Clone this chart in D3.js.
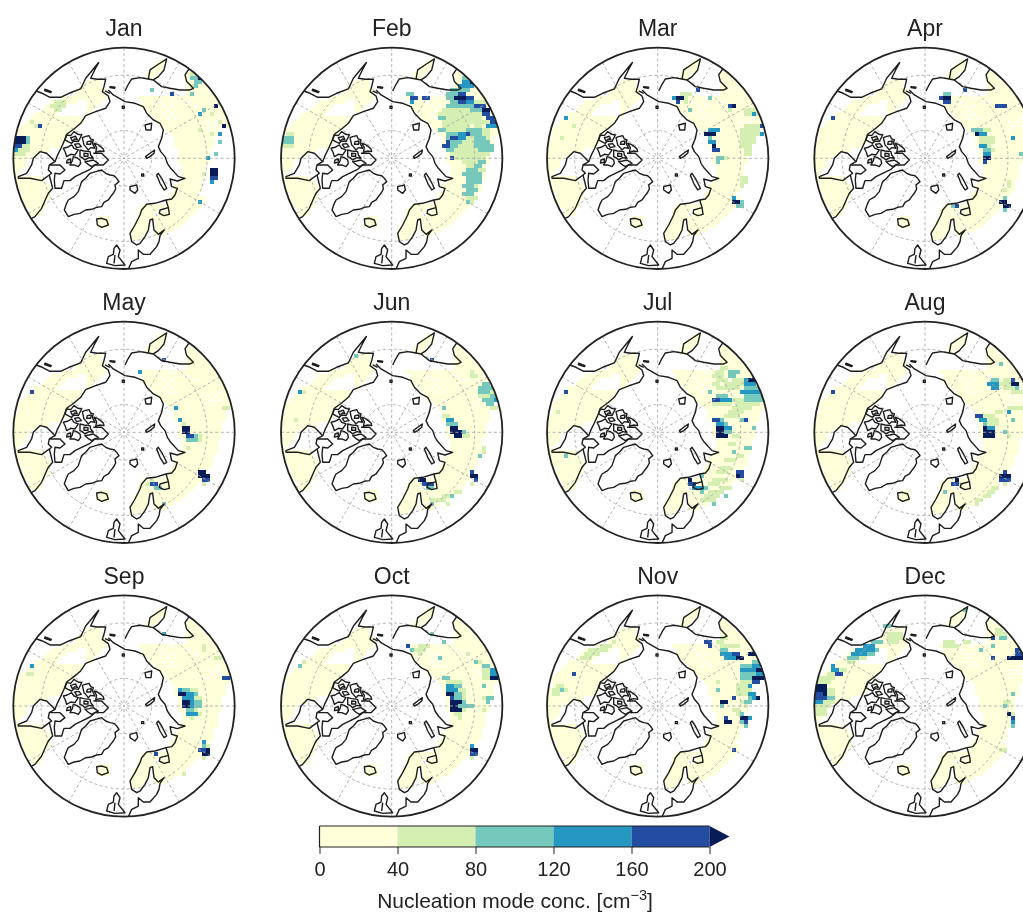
<!DOCTYPE html>
<html>
<head>
<meta charset="utf-8">
<script src="https://cdn.jsdelivr.net/npm/d3@7"></script>
<style>
  html, body { margin: 0; padding: 0; background: #fff; }
  svg { display: block; filter: blur(0.6px); }
  text { font-family: "Liberation Sans", Arial, sans-serif; fill: #222; }
</style>
</head>
<body>
<script>
// Month labels and colour bar
var months = ["Jan", "Feb", "Mar", "Apr", "May", "Jun", "Jul", "Aug", "Sep", "Oct", "Nov", "Dec"];
var barTicks = [0, 40, 80, 120, 160, 200];
var barColors = ["#ffffd9", "#d5efb3", "#75c8bc", "#2498c1", "#234da0", "#081d58"];

// Map units: 12 units = one grid cell, the pole is 0,0, the rim is at 332
var rimUnits = 332;
var cellUnits = 12;

// Land cells, all close to the lowest bin: [row, firstCol, lastCol]
var eurasiaRows = [[-20,16,18],[-19,16,19],[-18,16,20],[-17,16,21],[-16,16,22],[-15,4,23],[-14,5,24],[-13,5,25],[-12,6,25],
  [-11,7,26],[-10,8,26],[-9,9,26],[-8,10,26],[-7,11,26],[-6,12,26],[-5,13,25],[-4,13,25],[-3,13,25],[-2,14,24],[-1,14,24],
  [0,14,24],[1,14,24],[2,15,23],[3,15,23],[4,15,23],[5,15,23],[6,14,22],[7,13,22],[8,13,22],[9,12,21],[10,12,20],[11,11,20],
  [12,10,19],[13,10,18],[14,9,17],[15,8,16],[16,8,15],[17,8,14],[18,8,12],[19,8,10]];
var europeRows = [[12,5,9],[13,4,8],[14,4,7],[15,4,7],[16,3,6],[17,3,6],[18,2,6],[19,2,5],[20,2,4],
  [15,-6,-4],[16,-6,-4],[17,-6,-4],[-24,9,10],[-23,8,10],[-22,7,9],[-21,6,8],[-20,6,7],[-21,16,17]];
var americaRows = [[-19,-9,-6],[-18,-10,-6],[-17,-11,-5],[-16,-12,-5],[-15,-15,-5],[-14,-18,-12],[-14,-9,-6],[-13,-19,-15],[-13,-9,-7],
  [-12,-20,-16],[-12,-9,-8],[-11,-22,-17],[-11,-9,-9],[-10,-23,-11],[-9,-24,-11],[-8,-25,-12],[-7,-26,-13],[-6,-26,-14],[-5,-26,-15],
  [-4,-27,-15],[-3,-27,-16],[-2,-27,-19],[-1,-27,-22],[0,-27,-24],[1,-27,-25],[2,-27,-25],[3,-27,-26],[4,-27,-27],
  [5,-27,-21],[6,-27,-20],[7,-26,-19],[8,-26,-19],[9,-25,-19],[10,-25,-19],[11,-25,-20],[12,-24,-20],[13,-23,-21],[14,-23,-21]];
var landValue = 20;
// how many columns the central Siberian edge falls short in each month
var eastTrim = [3, 0, 2, 0, 0, 1, 0, 0, 0, 0, 2, 2];
var trimRows = [-7, 9];
// cells with no data inside the Siberian land area: [row, col]
var gapCells = [[-14,9],[-13,10],[-13,12],[-12,11],[-11,10],[-11,12],[-10,11],[-10,13],[-15,12],[-9,21],[-8,22],[-9,23],[-8,24],[-10,24],[-7,21],[-14,16],[-13,18]];

// Cells above the lowest bin, one list per month: [row, firstCol, lastCol, value]
var janCells = [[-5,-27,-25,220],[-4,-27,-25,220],[-3,-27,-26,180],[-2,-27,-27,140],[-5,-24,-24,100],[-4,-24,-24,100],[-3,-25,-24,60],[-2,-26,-24,60],[-1,-27,-25,60],
  [-8,-21,-21,180],[-8,-22,-22,60],[-9,-23,-23,60],[-14,-17,-15,60],[-13,-18,-15,60],[-12,-17,-16,60],
  [-16,12,12,180],[-17,7,7,100],[-16,17,17,100],[-21,17,18,60],[-20,17,18,100],[-20,19,19,220],[-19,18,19,100],[-18,18,18,100],[-18,17,17,60],
  [-12,20,20,100],[-11,19,19,140],[-13,23,23,220],[-11,22,22,60],[-8,25,25,220],[-9,24,24,60],[-6,24,24,140],[-4,24,24,100],[-1,23,23,100],[0,21,21,140],
  [-7,19,19,60],[-6,22,22,60],[3,22,23,220],[4,22,23,220],[5,22,23,180],[6,22,22,140],[4,20,20,60],[11,19,19,140]];
var febCells = [[-5,-27,-25,100],[-4,-27,-25,100],[-3,-27,-25,60],[-6,-26,-25,60],
  [-16,4,5,100],[-15,5,6,180],[-14,5,5,140],[-15,8,9,180],
  [-20,18,20,100],[-19,18,19,140],[-19,20,21,220],[-18,17,20,140],[-17,15,16,100],[-17,17,19,100],
  [-16,14,16,100],[-16,17,18,180],[-15,14,15,100],[-15,16,18,220],[-15,19,20,180],[-14,15,16,100],[-14,17,18,180],[-14,19,20,140],[-14,21,23,60],
  [-13,14,17,100],[-13,18,20,100],[-13,21,23,180],[-12,13,15,60],[-12,16,19,60],[-12,20,22,100],[-12,23,24,220],
  [-11,12,14,60],[-11,15,20,60],[-11,21,22,60],[-11,23,24,180],[-10,12,13,100],[-10,14,19,60],[-10,20,22,60],[-10,24,25,180],
  [-9,13,15,60],[-9,16,20,60],[-9,21,24,60],[-9,25,26,180],[-8,13,14,60],[-8,15,19,60],[-8,21,22,60],[-8,24,26,140],
  [-7,12,13,100],[-7,14,18,60],[-7,19,22,100],[-7,23,24,60],[-6,14,16,100],[-6,17,18,140],[-6,19,19,180],[-6,20,22,100],[-6,23,24,60],
  [-5,14,14,100],[-5,15,16,180],[-5,17,18,140],[-5,19,20,60],[-5,21,23,100],[-5,24,24,60],[-4,14,14,180],[-4,15,17,100],[-4,18,20,60],[-4,21,24,100],
  [-3,13,14,180],[-3,15,16,100],[-3,17,20,60],[-3,21,25,100],[-2,14,15,100],[-2,16,21,60],[-2,22,25,100],[-1,15,20,60],[-1,21,24,60],
  [0,15,15,180],[0,16,23,60],[1,18,21,60],[1,22,23,100],[2,19,20,60],[2,21,22,100],[3,19,21,100],[3,22,23,60],[4,18,22,100],[5,19,22,100],
  [6,19,22,100],[7,18,20,100],[7,21,21,60],[8,19,21,100],[9,18,20,100],[10,19,20,60],[10,21,21,60],[11,19,19,100],[11,20,20,60]];
var marCells = [[-10,-23,-23,140],[-8,-21,-21,60],[-5,-24,-24,60],
  [-15,5,6,220],[-14,5,5,180],[-15,4,4,140],[-15,7,7,60],[-16,6,8,60],[-14,7,7,60],[-17,10,10,180],[-15,13,13,100],[-12,8,8,100],
  [-13,19,19,220],[-13,18,18,180],[-12,18,18,60],[-7,13,15,140],[-6,12,14,220],[-5,13,13,100],[-4,13,14,140],[-3,14,14,220],[-2,14,15,180],[0,15,16,100],[1,15,15,100],[0,17,17,60],
  [11,19,20,220],[10,19,19,140],[12,20,21,100],[11,21,21,100],
  [-12,22,25,60],[-11,22,25,60],[-8,22,25,60],[-7,21,25,60],[-6,21,25,60],[-5,21,24,60],[-4,21,24,60],[-3,21,23,60],[-2,22,23,60],[-1,22,23,60],
  [-11,24,24,140],[-8,26,26,180],[-6,26,26,140],[5,21,22,60],[6,21,22,60],[7,21,21,60]];
var aprCells = [[-10,-23,-23,180],
  [-15,5,6,220],[-15,4,4,180],[-16,5,6,100],[-14,5,6,180],[-17,10,10,180],[-13,18,20,180],
  [-7,12,14,100],[-6,13,13,220],[-6,14,15,140],[-7,15,16,60],[-5,14,17,60],[-4,14,17,60],[-3,14,15,140],[-3,16,16,60],[-2,15,16,100],[-2,17,17,60],[-1,15,16,140],[0,15,16,220],[1,15,15,180],
  [-5,22,22,140],[-1,24,24,100],[10,20,20,100],[11,19,20,220],[12,20,21,220],[13,20,20,100],[12,8,8,180],[12,7,7,100],[6,21,21,60],[7,21,21,60],[8,20,20,60]];
var mayCells = [[-10,-23,-23,180],[-15,4,4,140],[-18,10,10,180],
  [-6,13,13,140],[-3,14,14,140],[-2,15,15,60],[0,15,16,220],[-1,15,16,220],[1,16,17,180],[1,18,18,100],[2,16,18,100],[2,19,19,60],[1,19,19,60],[4,16,16,60],
  [10,19,20,220],[11,19,21,220],[12,20,21,180],[13,20,20,60],[13,7,8,180],[12,7,7,60],[14,8,9,100],[13,6,6,60],[-6,25,26,60],[18,10,10,100]];
var junCells = [[-19,-9,-9,100],[-10,-23,-23,140],[-10,-22,-22,60],[-3,-24,-24,60],[-18,10,10,180],[-15,20,20,60],[-14,20,21,60],
  [-12,23,24,100],[-11,22,25,100],[-10,22,24,100],[-10,25,26,60],[-9,22,24,60],[-9,25,26,100],[-8,23,25,100],[-8,26,26,140],[-7,24,25,100],[-6,25,26,60],
  [-6,13,13,100],[-4,13,14,60],[-3,14,15,140],[-2,14,16,100],[-1,15,16,220],[0,15,17,220],[1,16,17,220],[0,18,18,100],[1,18,19,60],
  [4,23,23,60],[5,23,23,60],[6,22,22,100],[10,20,20,180],[11,20,21,220],[12,21,21,180],[13,20,20,60],
  [12,7,8,220],[13,8,10,180],[14,9,10,100],[18,10,10,100],[16,15,15,100],[16,13,14,60],[17,12,13,60],[15,16,17,60],[17,10,11,60],[18,14,14,60]];
var julCells = [[-10,-23,-23,180],[-5,-25,-25,60],[6,-23,-23,100],
  [-15,18,20,100],[-14,18,19,100],[-16,16,17,60],[-15,15,16,60],[-14,14,16,60],[-13,15,17,60],[-13,19,21,60],[-12,14,15,60],[-12,17,21,60],[-11,15,20,60],
  [-13,23,24,220],[-13,22,22,140],[-12,22,24,140],[-11,22,25,100],[-10,21,25,140],[-9,22,26,100],[-8,22,26,100],[-8,19,21,60],[-7,20,25,60],[-6,19,23,60],
  [-10,13,13,100],[-9,15,17,100],[-8,14,15,180],[-8,16,18,140],[-7,14,18,60],[-5,18,21,60],[-4,17,20,60],
  [-3,14,15,180],[-3,16,16,100],[-2,15,16,140],[-2,17,17,100],[-1,15,16,220],[-1,17,18,140],[0,15,16,220],[0,17,18,100],[1,15,17,220],
  [-3,21,21,100],[-3,22,22,180],[-1,24,24,100],[4,22,23,100],[5,19,19,100],[1,19,20,60],[3,18,19,60],[6,20,21,60],[7,17,19,60],
  [10,20,21,180],[11,20,20,220],[11,21,21,180],[12,21,21,60],[9,16,18,60],[10,15,17,60],[12,14,17,60],[13,13,15,60],[14,16,18,60],[15,13,16,60],[16,12,15,60],[17,11,14,60],
  [12,8,8,220],[13,8,9,180],[14,9,11,140],[15,11,11,100],[11,11,11,100],[14,12,12,100],[16,17,17,100],[18,14,14,100]];
var augCells = [[-10,-23,-23,180],[-17,19,19,100],[-13,17,18,100],[-12,16,18,140],[-11,17,18,140],
  [-13,22,22,180],[-12,22,23,220],[-11,23,23,100],[-13,20,21,60],[-12,19,21,60],[-11,20,22,60],[-10,22,24,60],[-10,25,26,100],
  [-5,21,21,140],[-6,23,23,100],[-3,22,22,100],[0,20,20,100],[-6,21,24,60],[-5,18,19,60],[1,21,21,60],
  [-4,13,14,180],[-3,14,15,140],[-2,15,15,100],[-1,16,17,140],[-1,15,15,220],[0,15,17,220],[1,15,17,220],[-2,16,18,60],[-3,16,18,60],[-4,15,17,60],
  [10,20,20,180],[11,19,21,220],[12,19,21,180],[13,20,20,60],[12,8,8,220],[13,7,8,180],[13,9,9,60],[15,5,5,100],
  [14,17,18,60],[15,16,17,60],[16,15,16,60],[17,13,14,60],[18,13,13,60]];
var sepCells = [[-10,-23,-23,140],[-8,-24,-23,60],[-18,10,10,140],[-14,20,20,60],[-15,20,20,60],[-12,23,24,60],[-7,25,26,180],
  [-3,14,15,220],[-2,15,15,140],[-4,14,14,140],[-4,15,16,100],[-4,17,18,60],[-3,16,17,140],[-2,16,17,140],[-3,18,18,100],[-2,18,19,60],
  [-1,15,16,220],[-1,17,17,140],[-1,18,19,100],[0,15,16,220],[0,17,17,140],[0,18,19,100],[1,16,17,100],[1,18,18,60],[2,16,18,140],[2,19,19,60],[3,17,17,60],
  [9,20,20,140],[10,20,20,100],[10,21,21,60],[11,19,20,180],[11,21,21,220],[12,20,21,220],[13,20,20,60],[12,8,8,180],[17,15,15,60]];
var octCells = [[-10,-23,-23,100],[-11,-22,-22,60],[-15,4,4,180],[-14,5,5,100],[-18,10,10,100],[-16,13,13,100],[-12,12,12,100],[-13,19,19,60],
  [-15,7,9,60],[-14,6,8,60],[-13,7,7,60],[-11,21,21,100],[-11,22,22,60],[-10,23,24,100],[-9,25,26,140],[-8,25,26,140],[-7,25,26,220],[-9,23,24,60],[-8,23,24,60],[-7,23,24,60],
  [-7,13,14,100],[-6,14,17,60],[-5,14,15,140],[-5,16,17,100],[-4,14,16,140],[-4,17,18,60],[-3,14,15,220],[-3,16,17,100],[-3,18,18,60],[-2,15,15,180],[-2,16,17,100],[-2,18,18,60],
  [-1,15,17,220],[-1,18,18,100],[0,15,16,220],[0,17,18,100],[1,15,17,220],[1,18,18,60],[2,16,17,60],[3,17,17,60],[0,19,20,100],[1,23,23,60],[-5,23,23,100],[-2,24,25,100],[-2,23,23,60],[-1,24,24,100],
  [10,20,20,140],[11,20,21,220],[12,20,21,180],[13,20,20,60]];
var novCells = [[-8,-21,-21,180],[-4,-24,-24,100],[-5,-25,-24,60],[-4,-26,-25,60],[-3,-26,-25,60],[-4,-23,-23,60],
  [-16,-11,-11,60],[-15,-14,-12,60],[-14,-17,-13,60],[-13,-18,-15,60],[-12,-19,-17,60],
  [-16,12,13,180],[-15,13,13,180],[-16,15,16,60],[-17,16,17,60],[-15,18,20,60],[-15,16,17,60],
  [-14,16,17,100],[-13,16,18,140],[-13,19,20,180],[-12,17,19,140],[-12,20,21,220],[-13,23,24,220],[-11,24,25,100],
  [-10,21,23,100],[-10,24,25,140],[-9,21,24,140],[-9,25,26,220],[-8,21,24,100],[-8,25,26,140],[-7,21,23,100],[-7,24,26,220],[-6,21,23,60],[-6,24,25,180],[-5,20,22,60],[-5,23,23,140],
  [-3,23,24,140],[-2,24,24,140],[-2,23,23,100],[-3,22,22,60],[-4,22,23,60],[-2,25,25,220],[-1,22,23,100],[0,22,22,60],[-1,21,21,60],
  [-2,19,19,180],[-1,16,17,220],[0,16,16,100],[2,21,21,100],[3,21,22,220],[4,22,22,180],[3,23,23,140],[4,21,21,100],[5,22,22,100],[3,17,17,180],[4,17,18,220],[-4,15,15,100],[-6,15,15,60],[11,19,19,180],
  [1,19,20,60],[2,20,20,60],[-4,20,21,60],[-3,20,21,60]];
var decCells = [[-5,-27,-25,220],[-4,-27,-25,220],[-3,-27,-26,180],[-3,-25,-25,220],[-2,-27,-25,180],[-1,-27,-26,140],
  [-7,-27,-24,60],[-6,-27,-24,60],[-4,-24,-23,60],[-3,-24,-23,60],[-2,-24,-23,100],[-1,-25,-23,60],[0,-27,-24,60],[1,-27,-25,60],[2,-27,-25,60],
  [-10,-23,-23,140],[-9,-23,-22,140],[-9,-21,-20,60],[-8,-22,-21,180],[-8,-24,-23,60],[-7,-25,-23,60],[-6,-26,-24,60],
  [-16,-13,-12,100],[-15,-15,-13,140],[-14,-17,-13,140],[-14,-12,-12,100],[-13,-18,-15,140],[-13,-14,-13,100],[-12,-19,-17,100],[-12,-16,-15,60],[-11,-19,-18,60],[-16,-11,-11,100],
  [-18,-9,-6,60],[-17,-9,-6,60],[-16,-9,-7,60],[-20,-10,-9,100],[-24,10,10,100],
  [-16,5,7,60],[-15,5,8,60],[-16,10,11,60],[-14,14,14,100],[-15,17,17,100],[-17,17,17,180],[-17,19,20,100],[-18,18,20,60],[-19,18,19,60],[-12,17,17,180],
  [-12,21,23,220],[-13,23,24,180],[-12,24,24,220],[-14,23,25,180],[-3,22,22,100],[2,21,21,220],[3,22,22,180],[4,22,22,140],[5,22,22,100],[2,22,22,60],[0,20,20,100],[-1,20,21,60],[11,19,20,60]];
var monthCells = [janCells, febCells, marCells, aprCells, mayCells, junCells, julCells, augCells, sepCells, octCells, novCells, decCells];

// Coast lines in map units
var coastOpen = [
  // Alaska and the Canadian north coast
  [[-278,-207],[-245,-195],[-222,-183],[-190,-183],[-165,-195],[-130,-208],[-122,-225],[-115,-240],[-100,-258],[-78,-285],[-76,-287],[-88,-265],[-100,-240],[-80,-237],[-55,-237],[-60,-215],[-65,-200],[-47,-187],[-42,-170],[-55,-150],[-85,-140],[-115,-128],[-130,-105],[-150,-88],[-172,-72],[-180,-50],[-190,-28],[-200,-8],[-207,10]],
  // Hudson Bay
  [[-224,50],[-247,67],[-282,60],[-317,60],[-317,55],[-292,45],[-277,20],[-272,0],[-252,-20],[-232,-15],[-217,0],[-207,10],[-224,20],[-227,35],[-217,45],[-224,50]],
  // Labrador
  [[-224,50],[-214,90],[-227,105],[-234,120],[-247,150],[-267,175],[-277,180]],
  // Baffin side, coiling round to the archipelago
  [[-224,20],[-192,20],[-177,35],[-192,47],[-207,45],[-209,65],[-207,90],[-187,90],[-180,67],[-162,67],[-147,55],[-127,45],[-102,33],[-87,20],[-62,20],[-47,5],[-67,-15],[-92,-15]],
  // Eurasia, Bering Strait round to the Sea of Okhotsk
  [[-57,-202],[-42,-195]],
  [[3,-202],[13,-222],[23,-238],[48,-242],[73,-238],[88,-235],[113,-215],[138,-210],[168,-205],[198,-205],[208,-210],[188,-230],[183,-250],[193,-265],[205,-272]],
  // Kamchatka
  [[73,-238],[78,-265],[103,-282],[128,-298],[120,-265],[103,-245],[88,-235]],
  // Arctic coast of Siberia to Scandinavia and the Baltic
  [[-47,-205],[-32,-190],[3,-170],[33,-165],[58,-155],[68,-135],[88,-115],[108,-105],[118,-85],[113,-60],[103,-35],[110,-20],[123,-5],[130,15],[140,30],[163,55],[183,60],[160,68],[138,62],[143,85],[160,90],[153,110],[143,122],[126,125],[93,135],[68,138],[53,155],[48,170],[33,200],[18,225],[23,250],[38,260],[48,255],[63,235],[73,215],[78,185],[86,182],[88,200],[90,215],[103,228],[120,215],[108,232],[105,250],[98,265],[78,288],[58,288],[43,275],[43,300],[23,310],[13,332]],
  // White Sea
  [[126,125],[133,148],[136,168],[120,172],[106,165],[108,155],[133,148]],
  // Ireland and Britain inner split
  [[-27,290],[-30,315]]
];
var coastClosed = [
  // Greenland
  [[-172,135],[-167,125],[-150,115],[-137,100],[-132,85],[-127,70],[-115,60],[-102,45],[-85,40],[-67,35],[-55,45],[-42,50],[-30,52],[-22,60],[-15,70],[-27,80],[-25,92],[-32,105],[-40,115],[-47,125],[-60,132],[-67,145],[-82,147],[-97,153],[-115,155],[-132,165],[-150,168],[-167,175],[-179,155]],
  // Iceland
  [[-82,182],[-67,180],[-52,185],[-47,200],[-67,207],[-80,200]],
  // Svalbard and the small islands
  [[18,85],[38,80],[41,95],[33,105],[18,95]],
  [[53,47],[59,47],[59,53],[53,53]],
  [[-5,-156],[1,-156],[1,-150],[-5,-150]],
  // Novaya Zemlya
  [[103,45],[113,60],[128,90],[120,95],[108,75],[98,50]],
  [[63,-100],[83,-105],[81,-85],[66,-85]],
  [[65,-5],[78,-15],[92,-25],[90,-15],[78,-5],[68,0]],
  // Britain
  [[-22,260],[-12,275],[-17,295],[3,320],[-27,322],[-52,315],[-47,295],[-32,288],[-30,270]],
  [[-237,-207],[-218,-200],[-220,-197],[-238,-203]],
  [[-42,-215],[-27,-213],[-28,-210],[-42,-212]],
  // Arctic archipelago
  [[-172,-70],[-160,-68],[-150,-80],[-138,-72],[-127,-70],[-132,-60],[-137,-50],[-150,-52],[-157,-45],[-168,-50],[-177,-55]],
  [[-125,-62],[-117,-65],[-105,-68],[-100,-58],[-92,-55],[-95,-45],[-87,-30],[-100,-32],[-107,-25],[-115,-35],[-120,-40]],
  [[-182,-30],[-170,-33],[-157,-40],[-150,-30],[-137,-25],[-142,-18],[-147,-10],[-160,-12],[-172,-5],[-176,-18]],
  [[-132,-25],[-120,-22],[-102,-20],[-100,-10],[-92,0],[-105,-2],[-117,5],[-125,-2],[-132,-5]],
  [[-152,-5],[-142,-2],[-132,5],[-130,15],[-137,25],[-150,20],[-162,20],[-155,8]],
  [[-117,10],[-105,8],[-92,5],[-85,10],[-77,15],[-88,20],[-97,25],[-108,18]],
  [[-90,-45],[-80,-42],[-70,-35],[-62,-28],[-60,-20],[-72,-22],[-85,-18],[-82,-32]],
  [[-160,-62],[-152,-64],[-145,-66],[-140,-55],[-148,-58],[-155,-52]],
  [[-120,-15],[-108,-14],[-108,-6],[-120,-6]],
  [[-170,5],[-160,2],[-160,12],[-172,14]],
  [[-148,-42],[-135,-44],[-128,-35],[-142,-32]],
  [[-110,-50],[-98,-52],[-100,-42],[-112,-42]]
];

var svgWidth = 1023;
var svgHeight = 916;
var radius = 110.7;
var colCenters = [124, 391.7, 657.7, 925];
var rowCenters = [158.3, 432.3, 706];

var svg = d3.select("body")
  .append("svg")
  .attr("width", svgWidth)
  .attr("height", svgHeight);

svg.append("clipPath")
  .attr("id", "disc")
  .append("circle")
  .attr("r", radius);

var colorScale = d3.scaleThreshold()
  .domain([40, 80, 120, 160, 200])
  .range(barColors);

// map units to pixels relative to the panel centre
var mapScale = d3.scaleLinear()
  .domain([-rimUnits, rimUnits])
  .range([-radius, radius]);

// polar projection for the dashed graticule, 40 degrees of arc out to the rim
var projection = d3.geoAzimuthalEquidistant()
  .rotate([0, -90])
  .scale(radius / (40 * Math.PI / 180))
  .translate([0, 0])
  .precision(0.3);
var geoPath = d3.geoPath(projection);

var spokes = {
  type: "MultiLineString",
  coordinates: d3.range(-180, 180, 30).map(lon => [[lon, 50], [lon, 90]])
};
var rings = [80, 60].map(lat => d3.geoCircle().center([0, 90]).radius(90 - lat)());

var coastLine = d3.line()
  .x(d => mapScale(d[0]))
  .y(d => mapScale(d[1]));

function drawCells(group, cells, className) {
  group.selectAll("rect." + className)
    .data(cells)
    .enter().append("rect")
    .attr("class", className)
    .attr("x", d => mapScale((d[1] - 0.5) * cellUnits))
    .attr("y", d => mapScale((d[0] - 0.5) * cellUnits))
    .attr("width", d => mapScale((d[2] - d[1] + 1) * cellUnits) - mapScale(0))
    .attr("height", mapScale(cellUnits) - mapScale(0))
    .attr("fill", d => colorScale(d[3]))
    .attr("shape-rendering", "crispEdges");
}

months.forEach(function (month, i) {
  var panel = svg.append("g")
    .attr("transform", `translate(${colCenters[i % 4]}, ${rowCenters[Math.floor(i / 4)]})`);

  var inner = panel.append("g").attr("clip-path", "url(#disc)");

  var land = eurasiaRows
    .map(d => [d[0], d[1], d[0] >= trimRows[0] && d[0] <= trimRows[1] ? d[2] - eastTrim[i] : d[2], landValue])
    .concat(europeRows.map(d => [d[0], d[1], d[2], landValue]))
    .concat(americaRows.map(d => [d[0], d[1], d[2], landValue]));
  drawCells(inner, land, "land");

  inner.selectAll("rect.gap")
    .data(gapCells)
    .enter().append("rect")
    .attr("class", "gap")
    .attr("x", d => mapScale((d[1] - 0.5) * cellUnits))
    .attr("y", d => mapScale((d[0] - 0.25) * cellUnits))
    .attr("width", mapScale(cellUnits) - mapScale(0))
    .attr("height", mapScale(cellUnits / 2) - mapScale(0))
    .attr("fill", "#fff");

  drawCells(inner, monthCells[i], "hot");

  // dashed graticule
  inner.append("path")
    .datum(spokes)
    .attr("d", geoPath)
    .attr("fill", "none")
    .attr("stroke", "#aaa")
    .attr("stroke-width", 0.9)
    .attr("stroke-dasharray", "3,2.5");
  inner.selectAll("path.ring")
    .data(rings)
    .enter().append("path")
    .attr("class", "ring")
    .attr("d", geoPath)
    .attr("fill", "none")
    .attr("stroke", "#aaa")
    .attr("stroke-width", 0.9)
    .attr("stroke-dasharray", "3,2.5");

  // coast lines
  inner.selectAll("path.coast")
    .data(coastOpen)
    .enter().append("path")
    .attr("class", "coast")
    .attr("d", coastLine)
    .attr("fill", "none")
    .attr("stroke", "#1c1c1c")
    .attr("stroke-width", 1.4)
    .attr("stroke-linejoin", "round");
  inner.selectAll("path.island")
    .data(coastClosed)
    .enter().append("path")
    .attr("class", "island")
    .attr("d", d => coastLine(d) + "Z")
    .attr("fill", "none")
    .attr("stroke", "#1c1c1c")
    .attr("stroke-width", 1.4)
    .attr("stroke-linejoin", "round");

  panel.append("circle")
    .attr("r", radius)
    .attr("fill", "none")
    .attr("stroke", "#222")
    .attr("stroke-width", 1.8);

  panel.append("text")
    .attr("y", -122)
    .attr("text-anchor", "middle")
    .attr("font-size", 23)
    .text(month);
});

// Colour bar
var barScale = d3.scaleLinear().domain([0, 200]).range([319.5, 709.5]);
var barTop = 826;
var barHeight = 21;
var barGroup = svg.append("g");

barGroup.selectAll("rect")
  .data(d3.pairs(barTicks))
  .enter().append("rect")
  .attr("x", d => barScale(d[0]))
  .attr("y", barTop)
  .attr("width", d => barScale(d[1]) - barScale(d[0]))
  .attr("height", barHeight)
  .attr("fill", d => colorScale(d[0] + 1));

var tipWidth = 20;
barGroup.append("path")
  .attr("d", `M${barScale(200)},${barTop}L${barScale(200) + tipWidth},${barTop + barHeight / 2}L${barScale(200)},${barTop + barHeight}Z`)
  .attr("fill", colorScale(201));

barGroup.append("path")
  .attr("d", `M${barScale(0)},${barTop}H${barScale(200)}M${barScale(200)},${barTop + barHeight}H${barScale(0)}V${barTop}`)
  .attr("fill", "none")
  .attr("stroke", "#222")
  .attr("stroke-width", 1.2);

var barAxis = d3.axisBottom(barScale)
  .tickValues(barTicks)
  .tickSize(7)
  .tickPadding(8);

var axisGroup = svg.append("g")
  .attr("transform", `translate(0, ${barTop + barHeight})`)
  .call(barAxis);
axisGroup.select(".domain").remove();
axisGroup.selectAll("line").attr("stroke", "#222").attr("stroke-width", 1);
axisGroup.selectAll("text")
  .attr("font-family", "Liberation Sans")
  .attr("font-size", 20)
  .attr("fill", "#222");

var barLabel = svg.append("text")
  .attr("x", 515)
  .attr("y", 908)
  .attr("text-anchor", "middle")
  .attr("font-size", 21);
barLabel.append("tspan").text("Nucleation mode conc. [cm");
barLabel.append("tspan").attr("dy", -8).attr("font-size", 14.5).text("\u22123");
barLabel.append("tspan").attr("dy", 8).text("]");
</script>
</body>
</html>
